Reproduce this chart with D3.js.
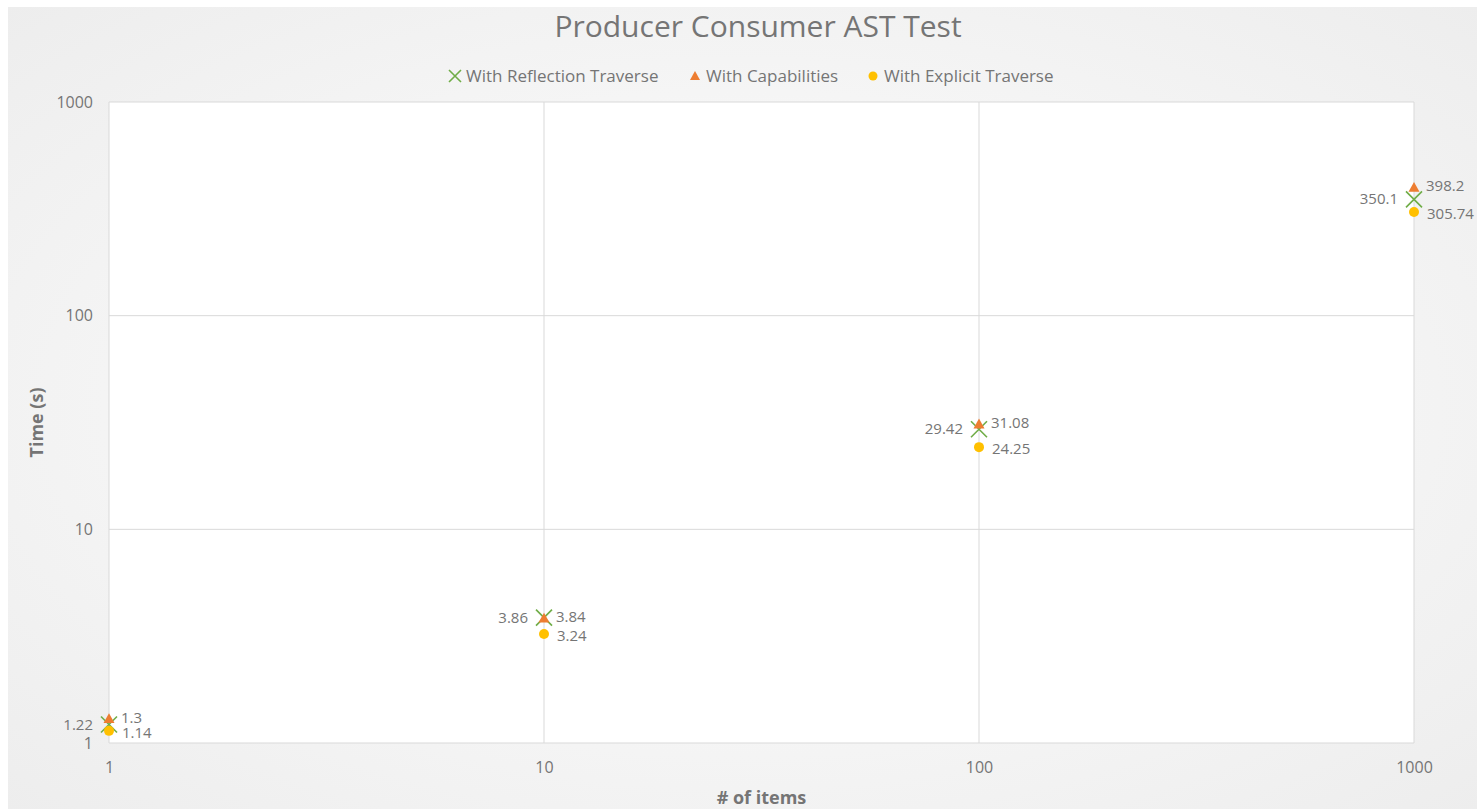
<!DOCTYPE html>
<html>
<head>
<meta charset="utf-8">
<script src="https://cdn.jsdelivr.net/npm/d3@7"></script>
<style>
  body { margin: 0; background: #fff; }
  text { font-family: "Open Sans", "Noto Sans", sans-serif; fill: #757575; }
</style>
</head>
<body>
<div id="chart"></div>
<script>
// Data
const items = [1, 10, 100, 1000];
const reflection = [1.22, 3.86, 29.42, 350.1];
const capabilities = [1.3, 3.84, 31.08, 398.2];
const explicit = [1.14, 3.24, 24.25, 305.74];
const xTicks = [1, 10, 100, 1000];
const yTicks = [1, 10, 100, 1000];
const seriesNames = ["With Reflection Traverse", "With Capabilities", "With Explicit Traverse"];

const W = 1477, H = 809;
const plot = { left: 109, right: 1414, top: 102, bottom: 743 };

const svg = d3.select("#chart").append("svg")
    .attr("width", W).attr("height", H);

// Background gradient like the Excel chart area
const defs = svg.append("defs");
const grad = defs.append("radialGradient").attr("id", "bg")
    .attr("cx", "50%").attr("cy", "50%").attr("r", "75%");
grad.append("stop").attr("offset", "0%").attr("stop-color", "#ffffff");
grad.append("stop").attr("offset", "100%").attr("stop-color", "#ececec");

svg.append("rect")
    .attr("x", 8).attr("y", 7)
    .attr("width", W - 8).attr("height", H - 7)
    .attr("fill", "url(#bg)");

svg.append("rect")
    .attr("x", plot.left).attr("y", plot.top)
    .attr("width", plot.right - plot.left).attr("height", plot.bottom - plot.top)
    .attr("fill", "#ffffff");

const x = d3.scaleLog().domain([1, 1000]).range([plot.left, plot.right]);
const y = d3.scaleLog().domain([1, 1000]).range([plot.bottom, plot.top]);

// Gridlines
svg.append("g").selectAll("line").data(yTicks).enter().append("line")
    .attr("x1", plot.left).attr("x2", plot.right)
    .attr("y1", d => y(d)).attr("y2", d => y(d))
    .attr("stroke", "#d9d9d9").attr("stroke-width", 1);

svg.append("g").selectAll("line").data(xTicks).enter().append("line")
    .attr("y1", plot.top).attr("y2", plot.bottom)
    .attr("x1", d => x(d)).attr("x2", d => x(d))
    .attr("stroke", "#d9d9d9").attr("stroke-width", 1);

// Axes
const xAxis = svg.append("g")
    .attr("transform", `translate(0,${plot.bottom})`)
    .call(d3.axisBottom(x).tickValues(xTicks).tickFormat(d3.format("d")).tickSize(0).tickPadding(19));
xAxis.select(".domain").remove();
xAxis.selectAll("text").style("font-size", "16px").attr("fill", "#757575");

const yAxis = svg.append("g")
    .attr("transform", `translate(${plot.left},0)`)
    .call(d3.axisLeft(y).tickValues(yTicks).tickFormat(d3.format("d")).tickSize(0).tickPadding(16));
yAxis.select(".domain").remove();
yAxis.selectAll("text").style("font-size", "16px").attr("fill", "#757575");

// Title
svg.append("text")
    .attr("x", 758).attr("y", 37)
    .attr("text-anchor", "middle")
    .style("font-size", "30px")
    .text("Producer Consumer AST Test");

// Axis titles
svg.append("text")
    .attr("x", (plot.left + plot.right) / 2).attr("y", 804)
    .attr("text-anchor", "middle")
    .style("font-size", "18px").style("font-weight", "bold")
    .text("# of items");

svg.append("text")
    .attr("transform", `translate(43,${(plot.top + plot.bottom) / 2}) rotate(-90)`)
    .attr("text-anchor", "middle")
    .style("font-size", "18px").style("font-weight", "bold")
    .text("Time (s)");

const green = "#70ad47", orange = "#ed7d31", gold = "#ffc000";

function drawX(g, cx, cy, s) {
    g.append("path")
        .attr("d", `M${cx - s},${cy - s}L${cx + s},${cy + s}M${cx - s},${cy + s}L${cx + s},${cy - s}`)
        .attr("stroke", green).attr("stroke-width", 1.6).attr("fill", "none");
}
function drawTri(g, cx, cy, s) {
    g.append("path")
        .attr("d", `M${cx},${cy - s}L${cx + s},${cy + s * 0.8}L${cx - s},${cy + s * 0.8}Z`)
        .attr("fill", orange);
}
function drawDot(g, cx, cy, r) {
    g.append("circle").attr("cx", cx).attr("cy", cy).attr("r", r).attr("fill", gold);
}

const marks = svg.append("g");
const labels = svg.append("g").style("font-size", "15px");

// Reflection: X markers, labels to the left
items.forEach((v, i) => {
    drawX(marks, x(v), y(reflection[i]), 8);
    labels.append("text")
        .attr("x", x(v) - 16).attr("y", y(reflection[i]) + 5)
        .attr("text-anchor", "end").text(reflection[i]);
});

// Capabilities: triangles, labels to the right
items.forEach((v, i) => {
    drawTri(marks, x(v), y(capabilities[i]), 5.5);
    labels.append("text")
        .attr("x", x(v) + 12).attr("y", y(capabilities[i]) + 4)
        .attr("text-anchor", "start").text(capabilities[i]);
});

// Explicit: circles, labels to the right
items.forEach((v, i) => {
    drawDot(marks, x(v), y(explicit[i]), 5);
    labels.append("text")
        .attr("x", x(v) + 13).attr("y", y(explicit[i]) + 7)
        .attr("text-anchor", "start").text(explicit[i]);
});

// Legend
const legend = svg.append("g").style("font-size", "17px");
const legendX = [447, 689, 867];
seriesNames.forEach((name, i) => {
    const lx = legendX[i], ly = 76;
    if (i === 0) drawX(legend, lx + 8, ly, 6);
    if (i === 1) drawTri(legend, lx + 6, ly, 5);
    if (i === 2) drawDot(legend, lx + 6, ly, 4.5);
    legend.append("text")
        .attr("x", lx + (i === 0 ? 19 : 17)).attr("y", ly + 6)
        .text(name);
});
</script>
</body>
</html>
